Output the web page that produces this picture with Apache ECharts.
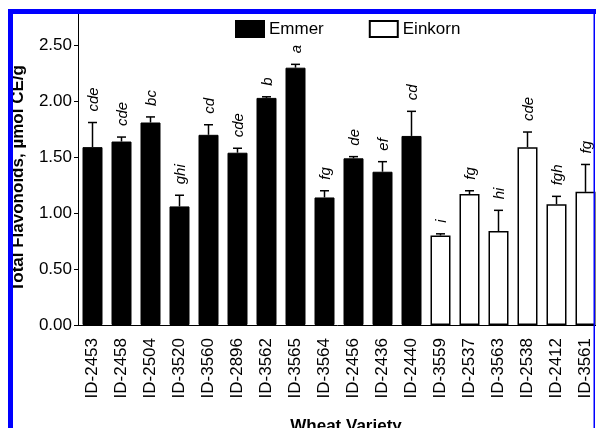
<!DOCTYPE html>
<html>
<head>
<meta charset="utf-8">
<script src="https://cdn.jsdelivr.net/npm/echarts@6/dist/echarts.min.js"></script>
<style>
html,body{margin:0;padding:0;background:#fff;}
#chart{width:596px;height:428px;}
</style>
</head>
<body>
<div id="chart"></div>
<script>
var categories = ['ID-2453','ID-2458','ID-2504','ID-3520','ID-3560','ID-2896','ID-3562','ID-3565','ID-3564','ID-2456','ID-2436','ID-2440','ID-3559','ID-2537','ID-3563','ID-2538','ID-2412','ID-3561'];
var emmerValues = [1.59,1.64,1.81,1.06,1.70,1.54,2.03,2.30,1.14,1.49,1.37,1.69,'-','-','-','-','-','-'];
var einkornValues = ['-','-','-','-','-','-','-','-','-','-','-','-',0.80,1.17,0.84,1.59,1.08,1.19];
var meanValues = [1.59,1.64,1.81,1.06,1.70,1.54,2.03,2.30,1.14,1.49,1.37,1.69,0.80,1.17,0.84,1.59,1.08,1.19];
var errorValues = [0.22,0.04,0.05,0.10,0.09,0.04,0.01,0.03,0.06,0.015,0.09,0.22,0.015,0.03,0.185,0.135,0.07,0.245];
var letters = ['cde','cde','bc','ghi','cd','cde','b','a','fg','de','ef','cd','i','fg','hi','cde','fgh','fg'];
var yTicks = [0,0.5,1.0,1.5,2.0,2.5];

var FONT = 'Liberation Sans';
var errData = categories.map(function(c,i){ return [i, meanValues[i], errorValues[i]]; });

var chart = echarts.init(document.getElementById('chart'), null, {renderer:'canvas'});
chart.setOption({
  animation:false,
  backgroundColor:'#fff',
  textStyle:{fontFamily:FONT, color:'#000'},
  grid:{left:78, top:14, width:522, bottom:103, containLabel:false, outerBoundsMode:'none'},
  legend:{
    left:230, top:15, itemWidth:28, itemHeight:16, itemGap:45,
    textStyle:{fontSize:17, fontFamily:FONT, color:'#000'},
    data:[{name:'Emmer', icon:'rect'},{name:'Einkorn', icon:'rect'}]
  },
  xAxis:{
    type:'category', data:categories,
    axisLine:{lineStyle:{color:'#000', width:1}},
    axisTick:{show:false},
    axisLabel:{rotate:90, margin:13, fontSize:17, fontFamily:FONT, color:'#000', interval:0},
    name:'Wheat Variety', nameLocation:'middle', nameGap:93,
    nameTextStyle:{fontSize:17, fontWeight:'bold', fontFamily:FONT, color:'#000', padding:[0,0,0,14]}
  },
  yAxis:{
    type:'value', min:0, max:2.78, interval:0.5,
    splitLine:{show:false},
    axisLine:{show:true, lineStyle:{color:'#000', width:1}},
    axisTick:{show:true, length:4, lineStyle:{color:'#000'}, customValues:yTicks},
    axisLabel:{margin:6, fontSize:17, fontFamily:FONT, color:'#000', customValues:yTicks,
      formatter:function(v){ return v.toFixed(2); }},
    name:'Total Flavonoids, µmol CE/g', nameLocation:'middle', nameGap:51, nameRotate:90,
    nameTextStyle:{fontSize:17, fontWeight:'bold', fontFamily:FONT, color:'#000', padding:[0,18,0,0]}
  },
  series:[
    {name:'Emmer', type:'bar', data:emmerValues, barWidth:20, barGap:'-100%',
      itemStyle:{color:'#000', borderColor:'#000', borderWidth:1}},
    {name:'Einkorn', type:'bar', data:einkornValues, barWidth:20, barGap:'-100%',
      itemStyle:{color:'#fff', borderColor:'#000', borderWidth:1.5}},
    {name:'err', type:'custom', data:errData, encode:{x:0, y:1}, z:5,
      renderItem:function(params, api){
        var i = api.value(0), v = api.value(1), e = api.value(2);
        var base = api.coord([i, v]);
        var top = api.coord([i, v + e]);
        var letter = letters[params.dataIndex];
        return {type:'group', children:[
          {type:'line', shape:{x1:base[0], y1:base[1], x2:top[0], y2:top[1]}, style:{stroke:'#000', lineWidth:1.5}},
          {type:'line', shape:{x1:top[0]-4.5, y1:top[1], x2:top[0]+4.5, y2:top[1]}, style:{stroke:'#000', lineWidth:1.5}},
          {type:'text', x:top[0]+1, y:top[1]-11, rotation:Math.PI/2,
            style:{text:letter, fontStyle:'italic', fontSize:15, fontFamily:FONT, fill:'#000', align:'left', verticalAlign:'middle'}}
        ]};
      }
    }
  ],
  graphic:[
    {type:'rect', z:100, shape:{x:8, y:9, width:588, height:5}, style:{fill:'#0000ff'}},
    {type:'rect', z:100, shape:{x:8, y:9, width:5, height:419}, style:{fill:'#0000ff'}},
    {type:'rect', z:100, shape:{x:593.5, y:9, width:1.5, height:419}, style:{fill:'#0000ff'}}
  ]
});
</script>
</body>
</html>
